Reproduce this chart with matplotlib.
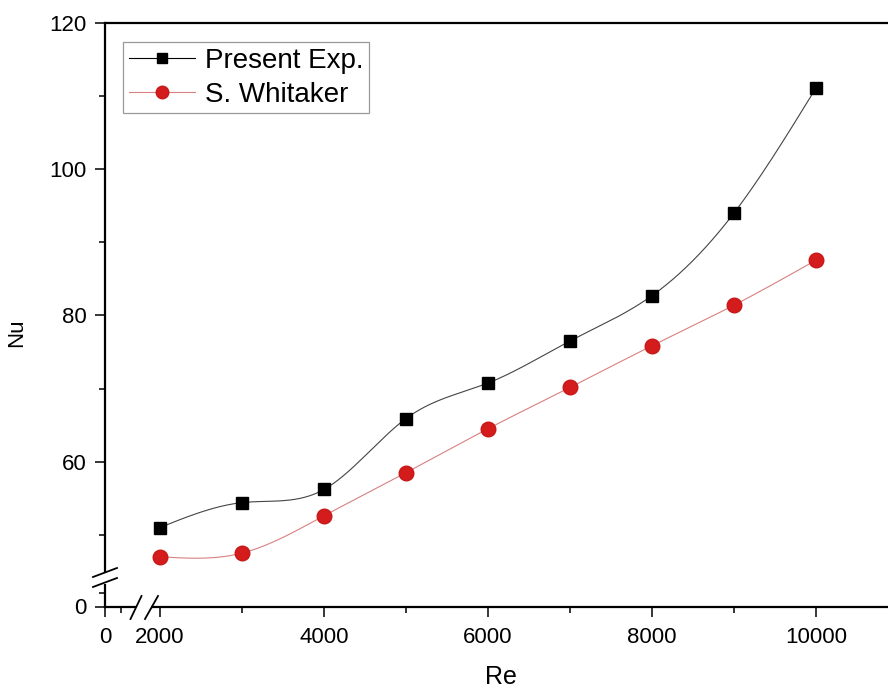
import matplotlib
matplotlib.use("Agg")
import matplotlib.pyplot as plt
from matplotlib.lines import Line2D
from matplotlib.patches import Rectangle
import numpy as np

W, H, DPI = 888, 695, 100

re_values = [2000, 3000, 4000, 5000, 6000, 7000, 8000, 9000, 10000]
nu_present = [51.0, 54.4, 56.2, 65.9, 70.75, 76.5, 82.7, 94.0, 111.1]
nu_whitaker = [47.0, 47.5, 52.6, 58.5, 64.5, 70.15, 75.85, 81.4, 87.55]

x_ticks = [1329, 2000, 4000, 6000, 8000, 10000]
x_ticklabels = ["0", "2000", "4000", "6000", "8000", "10000"]
y_ticks = [40.2, 60, 80, 100, 120]
y_ticklabels = ["0", "60", "80", "100", "120"]

plt.rcParams['font.family'] = ['Liberation Sans', 'DejaVu Sans']


def spline_curve(x, y, n=400):
    """Natural cubic spline through the points (for the connecting line)."""
    x = np.asarray(x, float)
    y = np.asarray(y, float)
    m = len(x)
    h = np.diff(x)
    A = np.zeros((m, m))
    b = np.zeros(m)
    A[0, 0] = A[-1, -1] = 1.0
    for i in range(1, m - 1):
        A[i, i - 1] = h[i - 1]
        A[i, i] = 2 * (h[i - 1] + h[i])
        A[i, i + 1] = h[i]
        b[i] = 3 * ((y[i + 1] - y[i]) / h[i] - (y[i] - y[i - 1]) / h[i - 1])
    c = np.linalg.solve(A, b)
    xs = np.linspace(x[0], x[-1], n)
    idx = np.clip(np.searchsorted(x, xs) - 1, 0, m - 2)
    dx = xs - x[idx]
    hb = h[idx]
    bb = (y[idx + 1] - y[idx]) / hb - hb * (2 * c[idx] + c[idx + 1]) / 3
    dd = (c[idx + 1] - c[idx]) / (3 * hb)
    ys = y[idx] + bb * dx + c[idx] * dx ** 2 + dd * dx ** 3
    return xs, ys


fig = plt.figure(figsize=(W / DPI, H / DPI), dpi=DPI)
left, right, top, bottom = 105, 895, 22.8, 606.5
ax = fig.add_axes([left / W, 1 - bottom / H, (right - left) / W, (bottom - top) / H])

x1, y1 = spline_curve(re_values, nu_present)
x2, y2 = spline_curve(re_values, nu_whitaker)
ax.plot(x1, y1, color='#444444', lw=0.8)
ax.plot(x2, y2, color='#d98080', lw=0.8)
ax.plot(re_values, nu_present, ls='none', marker='s', ms=9, color='black')
ax.plot(re_values, nu_whitaker, ls='none', marker='o', ms=10.5,
        color='#d41c1c', markeredgecolor='#c81818')

ax.set_xlim(1329, 10963)
ax.set_ylim(40.2, 120)
ax.set_xticks(x_ticks)
ax.set_xticklabels(x_ticklabels)
ax.set_yticks(y_ticks)
ax.set_yticklabels(y_ticklabels)
ax.set_xticks([1530, 3000, 5000, 7000, 9000], minor=True)
ax.set_yticks([42, 50, 70, 90, 110], minor=True)
ax.tick_params(which='major', direction='out', length=7, width=1.1, labelsize=16, pad=6)
ax.tick_params(which='minor', direction='out', length=4, width=1.1)
ax.tick_params(axis='x', which='major', pad=8)

for s in ax.spines.values():
    s.set_linewidth(1.6)
ax.spines['right'].set_visible(False)

ax.set_xlabel("Re", fontsize=18)
ax.xaxis.set_label_coords((501 - left) / (right - left), -(665 - bottom) / (bottom - top))
ax.xaxis.label.set_va('top')
ax.set_ylabel("Nu", fontsize=16)
ax.yaxis.set_label_coords(-(105 - 27) / (right - left), (bottom - 333) / (bottom - top))

ax.legend([Line2D([], [], color='black', lw=0.8, marker='s', ms=7),
           Line2D([], [], color='#d98080', lw=0.8, marker='o', ms=9,
                  markerfacecolor='#d41c1c', markeredgecolor='#c81818')],
          ["Present Exp.", "S. Whitaker"],
          loc='upper left', bbox_to_anchor=(123 / W, 1 - 42 / H),
          bbox_transform=fig.transFigure, borderaxespad=0, fancybox=False,
          edgecolor='#999999', fontsize=20, handlelength=2.4,
          handletextpad=0.36, borderpad=0.2, labelspacing=0.3, framealpha=1)
ax.get_legend().get_frame().set_linewidth(0.9)


def px(x, y):
    return (x / W, 1 - y / H)


def brk(x0, y0, x1_, y1_):
    p0, p1 = px(x0, y0), px(x1_, y1_)
    fig.add_artist(Line2D([p0[0], p1[0]], [p0[1], p1[1]], transform=fig.transFigure,
                          color='black', lw=1.3))


# break on the y axis
fig.add_artist(Rectangle(px(100, 584), 10 / W, 12 / H, transform=fig.transFigure,
                         facecolor='white', edgecolor='none'))
brk(93, 577, 117, 568)
brk(93, 587, 117, 578)
# break on the x axis
fig.add_artist(Rectangle(px(136, 609), 15 / W, 6 / H, transform=fig.transFigure,
                         facecolor='white', edgecolor='none'))
brk(130.5, 619, 141.5, 596)
brk(145, 619, 158, 596)

fig.savefig("out.png", dpi=DPI)
plt.close(fig)
